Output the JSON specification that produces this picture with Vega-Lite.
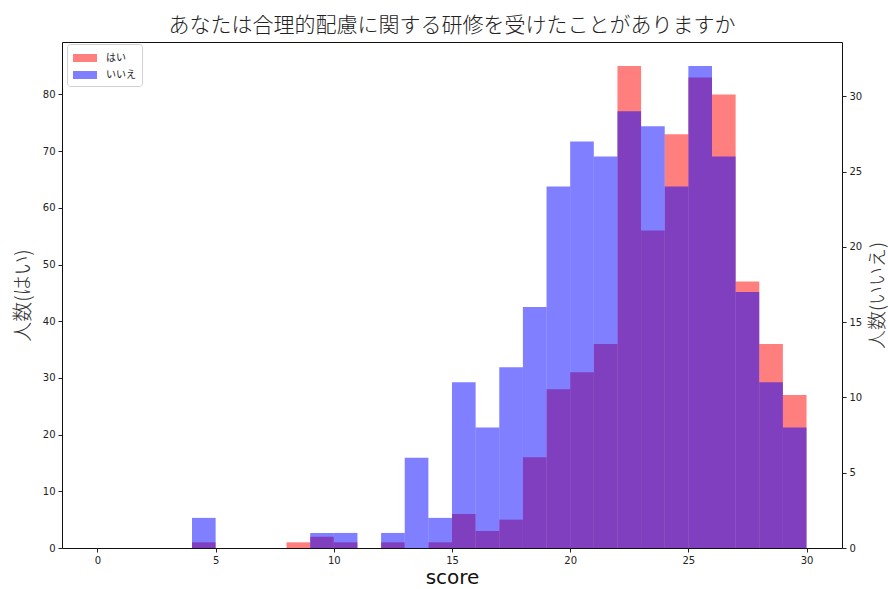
{
  "$schema": "https://vega.github.io/schema/vega-lite/v6.json",
  "width": 780,
  "height": 506,
  "autosize": {"type": "none"},
  "padding": {"left": 62, "top": 42, "right": 46, "bottom": 41},
  "background": "white",
  "title": {
    "text": "あなたは合理的配慮に関する研修を受けたことがありますか",
    "font": "Noto Sans CJK JP",
    "fontSize": 21,
    "fontWeight": 300,
    "color": "#222",
    "anchor": "middle",
    "offset": 6
  },
  "config": {
    "view": {"stroke": "#111", "strokeWidth": 1},
    "axis": {
      "grid": false,
      "domain": false,
      "tickColor": "#222",
      "tickSize": 4,
      "labelFont": "DejaVu Sans",
      "labelFontSize": 10,
      "labelColor": "#222",
      "labelPadding": 3
    },
    "bar": {"binSpacing": 0, "strokeWidth": 0}
  },
  "data": {
    "values": [
      {"score": 4, "score_end": 5, "group": "はい", "n": 1},
      {"score": 8, "score_end": 9, "group": "はい", "n": 1},
      {"score": 9, "score_end": 10, "group": "はい", "n": 2},
      {"score": 10, "score_end": 11, "group": "はい", "n": 1},
      {"score": 12, "score_end": 13, "group": "はい", "n": 1},
      {"score": 14, "score_end": 15, "group": "はい", "n": 1},
      {"score": 15, "score_end": 16, "group": "はい", "n": 6},
      {"score": 16, "score_end": 17, "group": "はい", "n": 3},
      {"score": 17, "score_end": 18, "group": "はい", "n": 5},
      {"score": 18, "score_end": 19, "group": "はい", "n": 16},
      {"score": 19, "score_end": 20, "group": "はい", "n": 28},
      {"score": 20, "score_end": 21, "group": "はい", "n": 31},
      {"score": 21, "score_end": 22, "group": "はい", "n": 36},
      {"score": 22, "score_end": 23, "group": "はい", "n": 85},
      {"score": 23, "score_end": 24, "group": "はい", "n": 56},
      {"score": 24, "score_end": 25, "group": "はい", "n": 73},
      {"score": 25, "score_end": 26, "group": "はい", "n": 83},
      {"score": 26, "score_end": 27, "group": "はい", "n": 80},
      {"score": 27, "score_end": 28, "group": "はい", "n": 47},
      {"score": 28, "score_end": 29, "group": "はい", "n": 36},
      {"score": 29, "score_end": 30, "group": "はい", "n": 27},
      {"score": 4, "score_end": 5, "group": "いいえ", "n": 2},
      {"score": 9, "score_end": 10, "group": "いいえ", "n": 1},
      {"score": 10, "score_end": 11, "group": "いいえ", "n": 1},
      {"score": 12, "score_end": 13, "group": "いいえ", "n": 1},
      {"score": 13, "score_end": 14, "group": "いいえ", "n": 6},
      {"score": 14, "score_end": 15, "group": "いいえ", "n": 2},
      {"score": 15, "score_end": 16, "group": "いいえ", "n": 11},
      {"score": 16, "score_end": 17, "group": "いいえ", "n": 8},
      {"score": 17, "score_end": 18, "group": "いいえ", "n": 12},
      {"score": 18, "score_end": 19, "group": "いいえ", "n": 16},
      {"score": 19, "score_end": 20, "group": "いいえ", "n": 24},
      {"score": 20, "score_end": 21, "group": "いいえ", "n": 27},
      {"score": 21, "score_end": 22, "group": "いいえ", "n": 26},
      {"score": 22, "score_end": 23, "group": "いいえ", "n": 29},
      {"score": 23, "score_end": 24, "group": "いいえ", "n": 28},
      {"score": 24, "score_end": 25, "group": "いいえ", "n": 24},
      {"score": 25, "score_end": 26, "group": "いいえ", "n": 32},
      {"score": 26, "score_end": 27, "group": "いいえ", "n": 26},
      {"score": 27, "score_end": 28, "group": "いいえ", "n": 17},
      {"score": 28, "score_end": 29, "group": "いいえ", "n": 11},
      {"score": 29, "score_end": 30, "group": "いいえ", "n": 8}
    ]
  },
  "encoding": {
    "x": {
      "field": "score",
      "type": "quantitative",
      "scale": {"domain": [-1.5, 31.5], "nice": false, "zero": false},
      "axis": {
        "values": [0, 5, 10, 15, 20, 25, 30],
        "title": "score",
        "titleFont": "DejaVu Sans",
        "titleFontSize": 20,
        "titleFontWeight": "normal",
        "titleColor": "#111",
        "titleX": 390,
        "titleY": 35,
        "titleAlign": "center",
        "titleBaseline": "alphabetic"
      }
    },
    "x2": {"field": "score_end"},
    "color": {
      "field": "group",
      "type": "nominal",
      "scale": {"domain": ["はい", "いいえ"], "range": ["#ff0000", "#0000ff"]},
      "legend": {
        "title": null,
        "orient": "none",
        "legendX": 5,
        "legendY": 2,
        "direction": "vertical",
        "fillColor": "white",
        "strokeColor": "#d0d0d0",
        "cornerRadius": 3,
        "padding": 6,
        "rowPadding": 4,
        "symbolType": "M-1.5,-0.5H1.5V0.5H-1.5Z",
        "symbolSize": 256,
        "symbolOpacity": 0.5,
        "symbolStrokeWidth": 0,
        "symbolOffset": 4,
        "labelOffset": 13,
        "labelFont": "Noto Sans CJK JP",
        "labelFontSize": 10,
        "labelColor": "#222"
      }
    }
  },
  "layer": [
    {
      "transform": [{"filter": "datum.group === 'はい'"}],
      "mark": {"type": "bar", "opacity": 0.5},
      "encoding": {
        "y": {
          "field": "n",
          "type": "quantitative",
          "scale": {"domain": [0, 89.25], "nice": false},
          "axis": {
            "orient": "left",
            "values": [0, 10, 20, 30, 40, 50, 60, 70, 80],
            "title": "人数(はい)",
            "titleFont": "Noto Sans CJK JP",
            "titleFontSize": 20,
            "titleFontWeight": 300,
            "titleColor": "#333",
            "titleX": -39,
            "titleY": 253,
            "titleAngle": 270,
            "titleAlign": "center",
            "titleBaseline": "middle"
          }
        },
        "y2": {"datum": 0}
      }
    },
    {
      "transform": [{"filter": "datum.group === 'いいえ'"}],
      "mark": {"type": "bar", "opacity": 0.5},
      "encoding": {
        "y": {
          "field": "n",
          "type": "quantitative",
          "scale": {"domain": [0, 33.6], "nice": false},
          "axis": {
            "orient": "right",
            "values": [0, 5, 10, 15, 20, 25, 30],
            "title": "人数(いいえ)",
            "titleFont": "Noto Sans CJK JP",
            "titleFontSize": 19,
            "titleFontWeight": 300,
            "titleColor": "#333",
            "titleX": 35,
            "titleY": 253,
            "titleAngle": 270,
            "titleAlign": "center",
            "titleBaseline": "middle"
          }
        },
        "y2": {"datum": 0}
      }
    }
  ],
  "resolve": {"scale": {"y": "independent"}, "axis": {"y": "independent"}}
}
